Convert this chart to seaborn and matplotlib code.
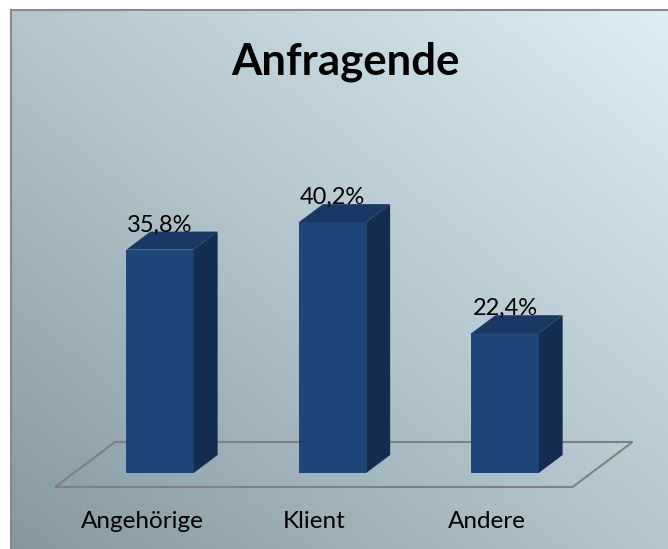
import matplotlib.pyplot as plt
import seaborn as sns
import numpy as np
from matplotlib.patches import Polygon, Rectangle
from matplotlib.transforms import IdentityTransform
from matplotlib.colors import LinearSegmentedColormap

categories = ["Angehörige", "Klient", "Andere"]
values = [35.8, 40.2, 22.4]
value_labels = ["35,8%", "40,2%", "22,4%"]
title = "Anfragende"

FRONT = "#1f4679"
TOP = "#1b3764"
SIDE = "#152c51"

sns.set_style("white")
plt.rcParams["font.family"] = ["Lato", "DejaVu Sans"]

W, H = 668, 549
fig = plt.figure(figsize=(W / 100, H / 100), dpi=100)
fig.patch.set_facecolor("white")

# gradient background inside the chart frame
bg = fig.add_axes([11 / W, 0, (W - 11) / W, (H - 10) / H], zorder=-10)
gx, gy = np.meshgrid(np.linspace(0, 1, 300), np.linspace(1, 0, 300))
grad = (gx + gy) / 2
cmap = LinearSegmentedColormap.from_list("bg", ["#85989f", "#b3c6cd", "#dcedf4"])
bg.imshow(grad, cmap=cmap, aspect="auto", extent=[0, 1, 0, 1], origin="upper")
bg.axis("off")
fig.patches.append(Rectangle((11 / W, -0.05), 1.1, (H - 10) / H + 0.05,
                             transform=fig.transFigure, fill=False,
                             edgecolor="#8a8a8a", linewidth=1.5, zorder=-5))

px_per_unit = 6.24
ax = fig.add_axes([73.75 / W, 76 / H, 517.5 / W, 400 / H])
ax.patch.set_alpha(0)
sns.barplot(x=categories, y=values, color=FRONT, saturation=1, width=0.39,
            linewidth=0, ax=ax, zorder=3)
ax.set_xlim(-0.5, 2.5)
ax.set_ylim(0, 400 / px_per_unit)
ax.set_xticks([])
ax.set_yticks([])
ax.set_xlabel("")
ax.set_ylabel("")
sns.despine(ax=ax, left=True, bottom=True)

dx, dy = 24, 18
ident = IdentityTransform()
bars = [p for p in ax.patches if isinstance(p, Rectangle)]

# floor parallelogram around the axes' x range
(fx0, fy0), (fx1, _) = ax.transAxes.transform([(0, 0), (1, 0)])
k = dx / dy
front_y, back_y = fy0 - 14, fy0 + 31
floor = [(fx0 - 14 * k, front_y), (fx1 - 14 * k, front_y),
         (fx1 + 31 * k, back_y), (fx0 + 31 * k, back_y)]
ax.add_patch(Polygon(floor, closed=True, fill=False, edgecolor="#808080",
                     linewidth=1.5, transform=ident, clip_on=False, zorder=1))

# 3D top and side faces for each bar
for p in bars:
    (x0, y0), (x1, y1) = ax.transData.transform(
        [(p.get_x(), p.get_y()), (p.get_x() + p.get_width(), p.get_y() + p.get_height())])
    top = [(x0, y1), (x1, y1), (x1 + dx, y1 + dy), (x0 + dx, y1 + dy)]
    side = [(x1, y0), (x1 + dx, y0 + dy), (x1 + dx, y1 + dy), (x1, y1)]
    ax.add_patch(Polygon(top, closed=True, facecolor=TOP, edgecolor="none",
                         transform=ident, clip_on=False, zorder=3))
    ax.add_patch(Polygon(side, closed=True, facecolor=SIDE, edgecolor="none",
                         transform=ident, clip_on=False, zorder=3))

for i, (v, lab) in enumerate(zip(values, value_labels)):
    ax.annotate(lab, xy=(i, v), xytext=(0, dy * 0.72), textcoords="offset points",
                ha="center", va="baseline", fontsize=17, color="black", zorder=5)
    ax.annotate(categories[i], xy=(i, 0), xytext=(-18 * 0.72, -49 * 0.72),
                textcoords="offset points", ha="center", va="center",
                fontsize=17.5, color="black", annotation_clip=False)

fig.text(345 / W, 1 - 75 / H, title, ha="center", va="baseline",
         fontsize=31.5, fontweight="bold", color="black")

fig.savefig("out.png", dpi=100)
